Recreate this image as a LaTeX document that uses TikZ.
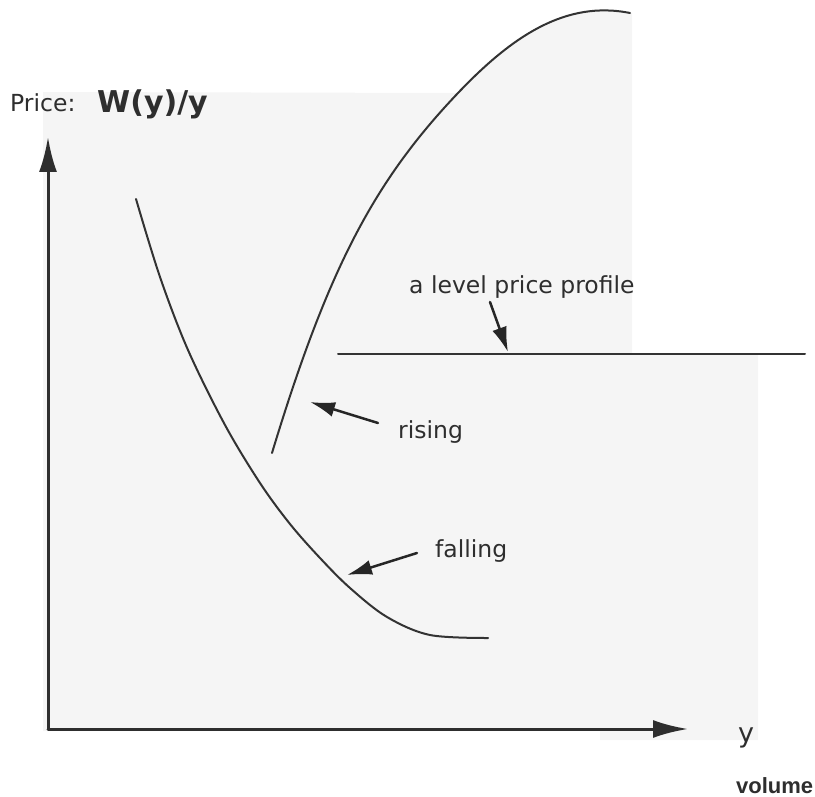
\documentclass[tikz,border=0pt]{standalone}
\usepackage{fontspec}
\setmainfont{DejaVu Sans}
\newfontfamily\volfont{Liberation Sans}
\usetikzlibrary{arrows.meta}
\begin{document}
\begin{tikzpicture}[x=1pt,y=-1pt,line cap=round,line join=round,
  axis/.style={line width=3pt,draw=black!82,-{Latex[length=35pt,width=18pt]}},
  curve/.style={line width=2pt,draw=black!80},
  pointer/.style={line width=2.5pt,draw=black!85,-{Latex[length=25pt,width=15pt]}},
  lbl/.style={font=\fontsize{23.5}{28}\selectfont,text=black!82,inner sep=0pt,anchor=base west}]
\useasboundingbox (0,0) rectangle (815,797);
% faint scanned paper
\fill[black!4] (43,92) -- (458,93)
  .. controls (511.8,36.5) and (565.5,0.1) .. (630,13)
  -- (632,13) -- (632,353) -- (758,353) -- (758,740) -- (600,740) -- (600,731) -- (43,731) -- cycle;
% axes
\coordinate (origin) at (48,729);
\coordinate (ytip) at (48,137);
\coordinate (xtip) at (688,729);
\draw[axis] (origin) -- (ytip);
\draw[axis] (origin) -- (xtip);
% labels of axes
\node[lbl,font=\fontsize{23.5}{28}\selectfont] (price) at (10,112) {Price:};
\node[lbl,font=\fontsize{30}{34}\selectfont\bfseries] (w) at (97,113) {W(y)/y};
\node[lbl,font=\fontsize{27}{32}\selectfont] (ylab) at (738,742) {y};
\node[lbl,font=\fontsize{22}{26}\selectfont\volfont\bfseries] (vol) at (736,793) {volume};
% falling curve
\draw[curve] plot[smooth,tension=0.55] coordinates {(136,199) (160,277) (188,350) (225,425) (260,483) (290,524) (320,558) (350,588) (387,617) (430,635) (488,638)};
% rising curve
\coordinate (rb) at (272,453);
\coordinate (rm) at (458,93);
\coordinate (re) at (630,13);
\draw[curve] (rb) .. controls (328.3,267.2) and (375,180.2) .. (rm)
  .. controls (511.8,36.5) and (565.5,0.1) .. (re);
% level line
\coordinate (l1) at (338,354);
\coordinate (l2) at (805,354);
\draw[curve] (l1) -- (l2);
% annotations
\node[lbl] (level) at (409,294) {a level price profile};
\node[lbl] (rising) at (398,438) {rising};
\node[lbl] (falling) at (435,557) {falling};
\coordinate (lt) at (490,302);
\coordinate (lh) at (508,352);
\draw[pointer] (lt) -- (lh);
\coordinate (rt) at (378,423);
\coordinate (rh) at (310,402);
\draw[pointer] (rt) -- (rh);
\coordinate (ft) at (417,553);
\coordinate (fh) at (347,575);
\draw[pointer] (ft) -- (fh);
\end{tikzpicture}
\end{document}
